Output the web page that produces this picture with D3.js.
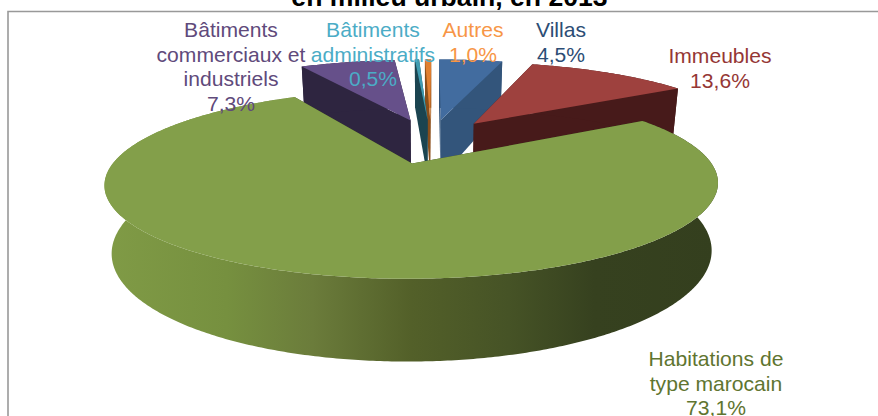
<!DOCTYPE html>
<html><head><meta charset="utf-8">
<script src="https://cdn.jsdelivr.net/npm/d3@7/dist/d3.min.js"></script>
<style>html,body{margin:0;padding:0;background:#fff;overflow:hidden}svg{display:block}text{font-family:"Liberation Sans",Arial,sans-serif}</style>
</head><body><svg id="c" width="878" height="416"></svg>
<script>
const titleText = "en milieu urbain, en 2013";
const categories = ["Villas","Immeubles","Habitations de type marocain","Bâtiments commerciaux et industriels","Bâtiments administratifs","Autres"];
const values = [4.5,13.6,73.1,7.3,0.5,1.0];
const labelLines = [["Villas","4,5%"],["Immeubles","13,6%"],["Habitations de","type marocain","73,1%"],["Bâtiments","commerciaux et","industriels","7,3%"],["Bâtiments","administratifs","0,5%"],["Autres","1,0%"]];

const topColors = ["#426c9f","#9e413e","#839f4a","#66508a","#3f9bb0","#e07f30"];
const wallColors = ["#33557b","#471a1a","#35401e","#2e2540","#1b4450","#8a4e1a"];
const textColors = ["#2c4d75","#953735","#5f7530","#604a7b","#4bacc6","#f79646"];
const labelCx = [561,720,716,231,373,473];
const labelBase = [37,63,366,37,37,37];
// perspective foreshortening of the cut edges, in degrees (display only)
const startTweak = [-1,-0.5,-8,1.5,1,1.2];
const endTweak = [-1,-8,2,-0.5,0.3,-0.8];
const midTweak = [0,0,-2.2,0,0,0];
const explodeBySlice = [0.26,0.26,0.29,0.26,0.26,0.26];

const svg = d3.select("#c");
const P = {x0:431,y0:139.5,R:282,A:80,k:0.205,H:61,taper:0.022,rot:1};
function project(u,v,z){
  const w = 1/(1-P.k*v);
  return [P.x0 + P.R*u*w*(1-P.taper*z), P.y0 + (P.A*v + P.H*z)*w];
}
const toRad = d3.scaleLinear().domain([0,360]).range([0,2*Math.PI]);
const pie = d3.pie().sort(null).startAngle(toRad(P.rot)).endAngle(toRad(P.rot+360));
const arcs = pie(values).map((a,i)=>{
  const startAngle=a.startAngle+toRad(startTweak[i]), endAngle=a.endAngle+toRad(endTweak[i]);
  return {mid:(startAngle+endAngle)/2+toRad(midTweak[i]),startAngle,endAngle,e:explodeBySlice[i]};
});
const line = d3.line();
function slicePts(a){
  const cu=a.e*Math.sin(a.mid), cv=-a.e*Math.cos(a.mid);
  const n=Math.max(2,Math.ceil((a.endAngle-a.startAngle)/0.01));
  const ang=d3.range(n+1).map(i=>a.startAngle+(a.endAngle-a.startAngle)*i/n);
  return {cu,cv,ang};
}
const rimPt=(s,t,z)=>project(s.cu+Math.sin(t),s.cv-Math.cos(t),z);

svg.append("text").attr("x",449.5).attr("y",6).attr("text-anchor","middle").attr("font-size",26.6).attr("font-weight","bold").attr("fill","#000").text(titleText);
svg.append("path").attr("d","M8,416V11.5H878").attr("fill","none").attr("stroke","#999").attr("stroke-width",1.6);

const defs=svg.append("defs");
const g=defs.append("linearGradient").attr("id","gw").attr("gradientUnits","userSpaceOnUse").attr("x1",104).attr("x2",717).attr("y1",0).attr("y2",0);
[[0,"#809b46"],[.2,"#76903f"],[.34,"#6b7c3b"],[.5,"#536029"],[.66,"#465326"],[.8,"#36411f"],[1,"#343f1e"]].forEach(d=>g.append("stop").attr("offset",d[0]).attr("stop-color",d[1]));

const drawOrder=[0,5,4,3,1,2];
drawOrder.forEach(i=>{
  const a=arcs[i], s=slicePts(a), L=svg.append("g");
  const c0=project(s.cu,s.cv,0), c1=project(s.cu,s.cv,1);
  const face=t=>[c0,rimPt(s,t,0),rimPt(s,t,1),c1];
  const faces=[a.startAngle,a.endAngle].sort((p,q)=>rimPt(s,p,0)[1]-rimPt(s,q,0)[1]);
  faces.forEach(t=>L.append("path").attr("d",line(face(t))+"Z").attr("fill",wallColors[i]));
  const wallTop=s.ang.map(t=>rimPt(s,t,0)), wallBot=s.ang.map(t=>rimPt(s,t,1)).reverse();
  L.append("path").attr("d",line(wallTop.concat(wallBot))+"Z").attr("fill",i===2?"url(#gw)":wallColors[i]);
  L.append("path").attr("d",line([c0].concat(wallTop))+"Z").attr("fill",topColors[i]);
});

labelLines.forEach((ls,i)=>{
  const t=svg.append("text").attr("text-anchor","middle").attr("font-size",21.1).attr("fill",textColors[i]);
  ls.forEach((l,j)=>t.append("tspan").attr("x",labelCx[i]).attr("y",labelBase[i]+j*24.6).text(l));
});
</script></body></html>
